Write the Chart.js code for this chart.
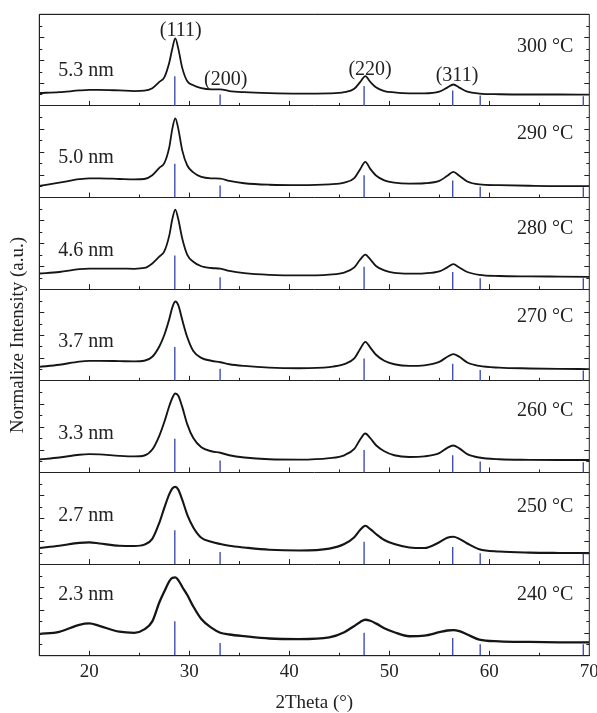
<!DOCTYPE html>
<html><head><meta charset="utf-8">
<script src="https://cdn.jsdelivr.net/npm/chart.js@4"></script>
<style>html,body{margin:0;padding:0;background:#fff}#wrap{width:597px;height:713px;position:relative}</style>
</head><body><div id="wrap"><canvas id="c"></canvas></div>
<script>
// ---- data ----
const twoTheta = [15, 17, 19, 20, 21, 23, 24.5, 25.5, 26.3, 27, 27.5, 28, 28.3, 28.6, 28.9, 29.3, 29.8, 30.4, 31.2, 32.2, 33.1, 34, 35.5, 38, 41, 44, 45.5, 46.5, 47.1, 47.6, 48.1, 48.7, 49.5, 50.5, 52, 53.5, 55, 55.8, 56.4, 57, 57.8, 59, 61, 64, 67, 70];
const i300 = [1.13, 1.2, 1.35, 1.4, 1.4, 1.35, 1.3, 1.33, 1.55, 2.1, 2.5, 3.8, 5.0, 5.9, 5.0, 3.3, 2.15, 1.8, 1.55, 1.45, 1.45, 1.3, 1.2, 1.12, 1.08, 1.1, 1.2, 1.5, 2.1, 2.6, 2.1, 1.6, 1.3, 1.18, 1.1, 1.1, 1.25, 1.6, 1.87, 1.6, 1.25, 1.08, 1.02, 1.0, 1.0, 0.99];
const i290 = [1.02, 1.3, 1.6, 1.68, 1.68, 1.62, 1.58, 1.62, 1.95, 2.6, 3.0, 4.4, 6.0, 6.92, 6.0, 4.1, 2.8, 2.2, 1.8, 1.68, 1.66, 1.45, 1.25, 1.12, 1.08, 1.15, 1.3, 1.7, 2.5, 3.12, 2.5, 1.9, 1.5, 1.3, 1.22, 1.25, 1.45, 1.9, 2.24, 1.9, 1.4, 1.15, 1.08, 1.03, 1.0, 1.0];
const i280 = [1.37, 1.5, 1.75, 1.8, 1.8, 1.8, 1.78, 1.85, 2.25, 2.85, 3.3, 4.7, 6.1, 6.95, 6.1, 4.4, 3.0, 2.4, 2.0, 1.85, 1.8, 1.6, 1.4, 1.25, 1.2, 1.28, 1.45, 1.9, 2.6, 3.02, 2.6, 2.0, 1.65, 1.42, 1.35, 1.38, 1.55, 1.9, 2.18, 1.9, 1.5, 1.25, 1.15, 1.12, 1.1, 1.08];
const i270 = [1.22, 1.4, 1.68, 1.74, 1.74, 1.72, 1.7, 1.75, 2.1, 3.0, 4.0, 5.4, 6.4, 6.92, 6.6, 5.3, 3.8, 2.6, 2.0, 1.75, 1.62, 1.45, 1.3, 1.15, 1.1, 1.2, 1.45, 1.95, 2.8, 3.4, 2.9, 2.25, 1.75, 1.45, 1.3, 1.35, 1.65, 2.1, 2.33, 2.1, 1.6, 1.3, 1.15, 1.08, 1.04, 1.02];
const i260 = [1.13, 1.3, 1.55, 1.6, 1.58, 1.45, 1.4, 1.48, 2.0, 3.2, 4.4, 5.8, 6.5, 6.89, 6.7, 5.7, 4.2, 3.0, 2.2, 1.85, 1.72, 1.5, 1.3, 1.15, 1.12, 1.25, 1.5, 2.05, 2.9, 3.4, 3.0, 2.35, 1.85, 1.5, 1.35, 1.4, 1.68, 2.15, 2.35, 2.1, 1.6, 1.3, 1.15, 1.1, 1.08, 1.08];
const i250 = [1.4, 1.6, 1.85, 1.89, 1.8, 1.6, 1.58, 1.7, 2.2, 3.6, 4.9, 6.1, 6.6, 6.74, 6.5, 5.6, 4.3, 3.2, 2.3, 1.95, 1.75, 1.6, 1.45, 1.25, 1.18, 1.35, 1.75, 2.35, 3.0, 3.34, 3.05, 2.6, 2.1, 1.75, 1.45, 1.4, 1.9, 2.3, 2.38, 2.2, 1.8, 1.3, 1.1, 1.0, 0.97, 0.96];
const i240 = [1.89, 2.09, 2.7, 2.82, 2.6, 2.1, 2.0, 2.3, 3.0, 4.65, 5.6, 6.5, 6.8, 6.83, 6.6, 6.0, 5.3, 4.3, 3.2, 2.45, 2.0, 1.85, 1.7, 1.5, 1.45, 1.6, 2.05, 2.6, 2.95, 3.14, 3.05, 2.8, 2.4, 2.05, 1.7, 1.75, 2.05, 2.2, 2.24, 2.15, 1.85, 1.4, 1.25, 1.2, 1.17, 1.16];

const temperatures = ['300 °C', '290 °C', '280 °C', '270 °C', '260 °C', '250 °C', '240 °C'];
const crystalSizes = ['5.3 nm', '5.0 nm', '4.6 nm', '3.7 nm', '3.3 nm', '2.7 nm', '2.3 nm'];
const patterns = [i300, i290, i280, i270, i260, i250, i240];

const refPositions = [28.55, 33.08, 47.48, 56.34, 59.09, 69.4];
const ref300 = [2.6, 1.0, 1.75, 1.35, 0.9, 0.85];
const ref290 = [2.95, 1.05, 1.95, 1.5, 0.95, 0.9];
const ref280 = [2.95, 1.05, 1.95, 1.5, 0.95, 0.95];
const ref270 = [2.95, 1.05, 1.95, 1.5, 0.95, 0.9];
const ref260 = [2.95, 1.05, 1.95, 1.5, 0.95, 0.9];
const ref250 = [2.95, 1.05, 1.95, 1.5, 0.95, 0.9];
const ref240 = [3.0, 1.1, 2.0, 1.55, 1.0, 1.0];
const refHeights = [ref300, ref290, ref280, ref270, ref260, ref250, ref240];

const peakLabels = ['(111)', '(200)', '(220)', '(311)'];
const xTickLabels = ['20', '30', '40', '50', '60', '70'];

// ---- placement (not data) ----
const PANEL = 8;
const N = patterns.length;
const offsetOf = i => (N - 1 - i) * PANEL;
const sizeLabelY = [3.05, 3.45, 3.35, 3.4, 3.35, 4.2, 5.3];
const tempLabelY = [5.2, 5.55, 5.25, 5.6, 5.35, 5.0, 5.35];
const sizeLabelX = 16.9, tempLabelX = 68.4;
const peakLabelAt = [[29.14, 6.6], [33.64, 2.3], [48.08, 3.15], [56.77, 2.65]];
const lineWidths = [1.8, 1.8, 1.8, 1.9, 1.9, 2.1, 2.3];

const FONT = '"Liberation Serif", "Times New Roman", serif';
const TXT = '#222';

const datasets = [];
patterns.forEach((arr, i) => {
  const off = offsetOf(i);
  datasets.push({
    data: twoTheta.map((x, k) => ({x, y: arr[k] + off})),
    borderColor: '#151515', borderWidth: lineWidths[i], pointRadius: 0,
    cubicInterpolationMode: 'monotone', fill: false, order: 2
  });
  const h = refHeights[i];
  const pts = [];
  refPositions.forEach((x, k) => { pts.push({x, y: off}, {x, y: off + h[k]}, {x, y: null}); });
  datasets.push({
    data: pts, borderColor: '#3f4fb5', borderWidth: 1.4, pointRadius: 0,
    spanGaps: false, tension: 0, fill: false, order: 1
  });
});

const decor = {
  id: 'decor',
  afterDraw(chart) {
    const {ctx, chartArea: a, scales: {x, y}} = chart;
    ctx.save();
    ctx.strokeStyle = '#222';
    ctx.lineWidth = 1;
    ctx.beginPath();
    ctx.rect(a.left, a.top, a.right - a.left, a.bottom - a.top);
    for (let p = 0; p < N; p++) {
      const base = p * PANEL;
      for (let v = 20; v < 70; v += 5) {
        const px = Math.round(x.getPixelForValue(v)) + 0.5;
        const py = y.getPixelForValue(base);
        const len = v % 10 === 0 ? 5 : 3;
        ctx.moveTo(px, py); ctx.lineTo(px, py - len);
      }
      for (let k = 1; k < PANEL; k++) {
        const py = Math.round(y.getPixelForValue(base + k)) + 0.5;
        const len = k % 2 === 0 ? 5 : 3;
        ctx.moveTo(a.left, py); ctx.lineTo(a.left + len, py);
        ctx.moveTo(a.right, py); ctx.lineTo(a.right - len, py);
      }
    }
    ctx.stroke();
    ctx.fillStyle = TXT;
    ctx.font = '20px ' + FONT;
    ctx.textBaseline = 'middle';
    for (let i = 0; i < N; i++) {
      const off = offsetOf(i);
      ctx.textAlign = 'left';
      ctx.fillText(crystalSizes[i], x.getPixelForValue(sizeLabelX), y.getPixelForValue(off + sizeLabelY[i]));
      ctx.textAlign = 'right';
      ctx.fillText(temperatures[i], x.getPixelForValue(tempLabelX), y.getPixelForValue(off + tempLabelY[i]));
    }
    ctx.textAlign = 'center';
    peakLabels.forEach((t, k) => {
      ctx.fillText(t, x.getPixelForValue(peakLabelAt[k][0]), y.getPixelForValue(offsetOf(0) + peakLabelAt[k][1]));
    });
    ctx.restore();
  }
};

new Chart(document.getElementById('c'), {
  type: 'line',
  data: {datasets},
  plugins: [decor],
  options: {
    responsive: true, maintainAspectRatio: false, animation: false,
    layout: {padding: {top: 14.3, right: 7.7, left: 0, bottom: 0}},
    plugins: {legend: {display: false}, tooltip: {enabled: false}},
    scales: {
      x: {
        type: 'linear', min: 15, max: 70,
        ticks: {
          stepSize: 5, autoSkip: false, maxRotation: 0, padding: 5, color: TXT,
          font: {family: FONT, size: 19},
          callback: v => { const i = xTickLabels.indexOf(String(v)); return i >= 0 ? xTickLabels[i] : ''; }
        },
        grid: {display: false, drawTicks: false},
        border: {display: true, color: '#222'},
        title: {display: true, text: '2Theta (°)', color: TXT, font: {family: FONT, size: 19, lineHeight: 1}, padding: 0},
        afterFit: s => { s.height = 57.3; s.paddingLeft = 0; s.paddingRight = 0; }
      },
      y: {
        type: 'linear', min: 0, max: 56,
        ticks: {display: false, stepSize: 8},
        grid: {color: '#222', lineWidth: 1, drawTicks: false},
        border: {display: true, color: '#222'},
        title: {display: true, text: 'Normalize Intensity (a.u.)', color: TXT, font: {family: FONT, size: 19, lineHeight: 1.2}, padding: {top: 7, bottom: 0}},
        afterFit: s => { s.width = 39.3; s.paddingTop = 0; s.paddingBottom = 0; }
      }
    }
  }
});
</script></body></html>
